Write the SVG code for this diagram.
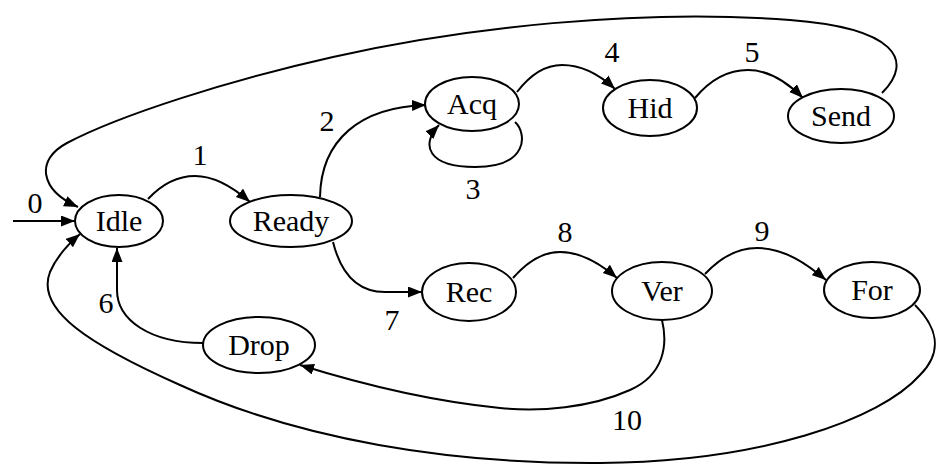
<svg xmlns="http://www.w3.org/2000/svg" width="941" height="465" viewBox="0 0 941 465">
  <defs>
    <marker id="arrow" markerUnits="userSpaceOnUse" markerWidth="15" markerHeight="12" refX="14" refY="5.5" orient="auto">
      <path d="M0,0 L14,5.5 L0,11 z" fill="#000"/>
    </marker>
    <style>
      .node ellipse { fill: #fff; stroke: #000; stroke-width: 2; }
      text { font-family: "Liberation Serif", "DejaVu Serif", serif; font-size: 30px; fill: #000; text-anchor: middle; }
      .edges path { fill: none; stroke: #000; stroke-width: 2; }
      .edges path.arr { marker-end: url(#arrow); }
    </style>
  </defs>
  <rect width="941" height="465" fill="#fff"/>

  <g class="edges">
    <!-- 0: entry -->
    <path class="arr" d="M13,221 L75,221"/>
    <!-- 1: Idle -> Ready -->
    <path class="arr" d="M148,199 C163,183 178,176 195,176 C215,176 234,188 250,202"/>
    <!-- 2: Ready -> Acq -->
    <path class="arr" d="M320,197 C321,140 360,107 426,105"/>
    <!-- 3: Acq self loop -->
    <path class="arr" d="M515,122 C527,133 529,167 475,167 C428,167 420,145 439,125"/>
    <!-- 4: Acq -> Hid -->
    <path class="arr" d="M517,92 C530,75 545,65 562,65 C582,65 600,75 615,89"/>
    <!-- 5: Hid -> Send -->
    <path class="arr" d="M695,98 C710,80 728,70 748,70 C770,70 790,85 803,98"/>
    <!-- Send -> Idle -->
    <path class="arr" d="M882,93 C915,60 895,28 790,20 C640,8 460,28 333,57 C230,80 120,115 67,143 C35,160 40,190 78,207"/>
    <!-- 6: Drop -> Idle -->
    <path class="arr" d="M203,343 C150,343 117,320 117,290 L117,248"/>
    <!-- 7: Ready -> Rec -->
    <path class="arr" d="M333,242 C340,270 355,292 385,292 L422,292"/>
    <!-- 8: Rec -> Ver -->
    <path class="arr" d="M513,278 C527,262 543,252 560,252 C583,252 603,266 617,278"/>
    <!-- 9: Ver -> For -->
    <path class="arr" d="M705,274 C720,258 738,248 757,248 C785,248 808,265 826,280"/>
    <!-- 10: Ver -> Drop -->
    <path class="arr" d="M662,320 C668,345 664,375 630,390 C590,408 540,412 500,408 C440,402 380,390 300,365"/>
    <!-- For -> Idle -->
    <path class="arr" d="M915,305 C935,325 945,350 920,375 C880,420 760,462 600,463 C450,464 300,440 180,385 C90,345 35,310 50,272 C56,258 66,246 80,234"/>
  </g>

  <g class="labels" font-family="Liberation Serif, serif">
    <text x="35" y="213">0</text>
    <text x="200" y="165">1</text>
    <text x="327" y="131">2</text>
    <text x="473" y="199">3</text>
    <text x="612" y="62">4</text>
    <text x="752" y="62">5</text>
    <text x="106" y="313">6</text>
    <text x="392" y="330">7</text>
    <text x="565" y="242">8</text>
    <text x="762" y="241">9</text>
    <text x="627" y="430">10</text>
  </g>

  <g id="idle" class="node"><ellipse cx="119" cy="221" rx="44" ry="26"/><text x="119" y="231">Idle</text></g>
  <g id="ready" class="node"><ellipse cx="291" cy="221" rx="61" ry="26"/><text x="291" y="231">Ready</text></g>
  <g id="acq" class="node"><ellipse cx="472" cy="104" rx="47" ry="27"/><text x="472" y="114">Acq</text></g>
  <g id="hid" class="node"><ellipse cx="650" cy="108" rx="47" ry="28"/><text x="650" y="118">Hid</text></g>
  <g id="send" class="node"><ellipse cx="841" cy="116" rx="53" ry="27"/><text x="841" y="126">Send</text></g>
  <g id="rec" class="node"><ellipse cx="469" cy="292" rx="47" ry="29"/><text x="469" y="302">Rec</text></g>
  <g id="ver" class="node"><ellipse cx="662" cy="291" rx="50" ry="29"/><text x="662" y="301">Ver</text></g>
  <g id="for" class="node"><ellipse cx="872" cy="290" rx="48" ry="28"/><text x="872" y="300">For</text></g>
  <g id="drop" class="node"><ellipse cx="259" cy="345" rx="56" ry="28"/><text x="259" y="355">Drop</text></g>
</svg>
